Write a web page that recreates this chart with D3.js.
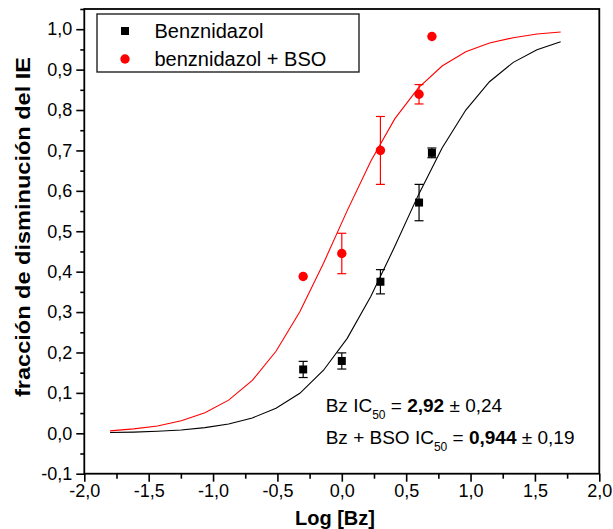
<!DOCTYPE html>
<html>
<head>
<meta charset="utf-8">
<script src="https://cdn.jsdelivr.net/npm/d3@7"></script>
<style>
  body { margin: 0; background: #fff; }
  svg { display: block; font-family: "Liberation Sans", Arial, sans-serif; }
  .axis path { display: none; }
  .axis line { stroke: #000; stroke-width: 1.6; }
  .axis text { font-size: 18px; fill: #000; }
</style>
</head>
<body>
<svg id="chart" width="613" height="529"></svg>
<script>
// fitted curves
const curveX = [-1.8, -1.616, -1.432, -1.247, -1.063, -0.879, -0.695, -0.511, -0.326, -0.142,
                0.042, 0.226, 0.411, 0.595, 0.779, 0.963, 1.147, 1.332, 1.516, 1.7]
const benzCurve = [0.002, 0.003, 0.005, 0.008, 0.014, 0.023, 0.038, 0.062, 0.099, 0.156,
                   0.235, 0.339, 0.462, 0.590, 0.706, 0.800, 0.870, 0.918, 0.949, 0.969]
const bsoCurve = [0.006, 0.011, 0.018, 0.031, 0.051, 0.082, 0.131, 0.203, 0.301, 0.421,
                  0.551, 0.674, 0.778, 0.855, 0.909, 0.944, 0.966, 0.979, 0.988, 0.993]

// measured points
const doseLog = [-0.3, 0.0, 0.3, 0.6, 0.7]
const benzMean = [0.158, 0.179, 0.375, 0.571, 0.694]
const benzErr = [0.02, 0.02, 0.03, 0.045, 0.012]
const bsoMean = [0.388, 0.445, 0.700, 0.839, 0.982]
const bsoErr = [0, 0.05, 0.084, 0.024, 0]

const xTicks = [-2, -1.5, -1, -0.5, 0, 0.5, 1, 1.5, 2]
const yTicks = [-0.1, 0, 0.1, 0.2, 0.3, 0.4, 0.5, 0.6, 0.7, 0.8, 0.9, 1.0]
const legendLabels = ['Benznidazol', 'benznidazol + BSO']

const svg = d3.select('#chart')
const m = {left: 84.3, right: 599.3, top: 9, bottom: 473.7}

// scales
const x = d3.scaleLinear().domain([-2, 2]).range([m.left, m.right])
const y = d3.scaleLinear().domain([-0.1, 1.05]).range([m.bottom, m.top])

const loc = d3.formatLocale({decimal: ',', thousands: '.', grouping: [3], currency: ['', ''], minus: '-'})
const fmt = loc.format('.1f')

// axes, major + minor
svg.append('g').attr('class', 'axis')
    .attr('transform', `translate(0,${m.bottom})`)
    .call(d3.axisBottom(x).tickValues(xTicks).tickFormat(fmt).tickSize(8).tickPadding(3))
svg.append('g').attr('class', 'axis')
    .attr('transform', `translate(0,${m.bottom})`)
    .call(d3.axisBottom(x).tickValues(xTicks.slice(1).map(v => v - 0.25)).tickFormat('').tickSize(5))
svg.append('g').attr('class', 'axis')
    .attr('transform', `translate(${m.left},0)`)
    .call(d3.axisLeft(y).tickValues(yTicks).tickFormat(fmt).tickSize(8).tickPadding(4))
svg.append('g').attr('class', 'axis')
    .attr('transform', `translate(${m.left},0)`)
    .call(d3.axisLeft(y).tickValues(yTicks.map(v => v + 0.05)).tickFormat('').tickSize(4))

// frame
svg.append('rect')
    .attr('x', m.left).attr('y', m.top)
    .attr('width', m.right - m.left).attr('height', m.bottom - m.top)
    .attr('fill', 'none').attr('stroke', '#000').attr('stroke-width', 1.8)

// curves
const line = d3.line().x((d, i) => x(curveX[i])).y(d => y(d))
svg.append('path').attr('d', line(bsoCurve))
    .attr('fill', 'none').attr('stroke', '#ff0000').attr('stroke-width', 1.1)
svg.append('path').attr('d', line(benzCurve))
    .attr('fill', 'none').attr('stroke', '#000').attr('stroke-width', 1.1)

function errorBars(means, errs, color) {
    const g = svg.append('g')
    doseLog.forEach((d, i) => {
        if (!errs[i]) return
        const cx = x(d), y0 = y(means[i] - errs[i]), y1 = y(means[i] + errs[i])
        g.append('line').attr('x1', cx).attr('x2', cx).attr('y1', y0).attr('y2', y1)
        g.append('line').attr('x1', cx - 4.5).attr('x2', cx + 4.5).attr('y1', y0).attr('y2', y0)
        g.append('line').attr('x1', cx - 4.5).attr('x2', cx + 4.5).attr('y1', y1).attr('y2', y1)
    })
    g.selectAll('line').attr('stroke', color).attr('stroke-width', 1.2)
}
errorBars(bsoMean, bsoErr, '#ff0000')
errorBars(benzMean, benzErr, '#000')

svg.append('g').selectAll('circle').data(bsoMean).enter().append('circle')
    .attr('cx', (d, i) => x(doseLog[i])).attr('cy', d => y(d)).attr('r', 4.7)
    .attr('fill', '#ff0000')
svg.append('g').selectAll('rect').data(benzMean).enter().append('rect')
    .attr('x', (d, i) => x(doseLog[i]) - 4).attr('y', d => y(d) - 4)
    .attr('width', 8).attr('height', 8).attr('fill', '#000')

// legend
const leg = svg.append('g')
leg.append('rect').attr('x', 97).attr('y', 14).attr('width', 262).attr('height', 58)
    .attr('fill', '#fff').attr('stroke', '#222').attr('stroke-width', 1.4)
leg.append('rect').attr('x', 121).attr('y', 27).attr('width', 8).attr('height', 8).attr('fill', '#000')
leg.append('circle').attr('cx', 125).attr('cy', 59).attr('r', 4.7).attr('fill', '#ff0000')
leg.selectAll('text').data(legendLabels).enter().append('text')
    .attr('x', 154.5).attr('y', (d, i) => i === 0 ? 37.5 : 65.5)
    .style('font-size', '20px').text(d => d)

// IC50 annotation
function icLine(yPos, prefix, value, err) {
    const t = svg.append('text').attr('x', 325.7).attr('y', yPos).style('font-size', '19px')
    t.append('tspan').text(prefix + ' IC')
    t.append('tspan').attr('dy', 7).style('font-size', '12px').text('50')
    t.append('tspan').attr('dy', -7).text(' = ')
    t.append('tspan').style('font-weight', 'bold').text(value)
    t.append('tspan').text(' \u00b1 ' + err)
}
icLine(412.3, 'Bz', '2,92', '0,24')
icLine(444.3, 'Bz + BSO', '0,944', '0,19')

// axis titles
svg.append('text').attr('x', 335).attr('y', 525)
    .attr('text-anchor', 'middle').style('font-size', '20px').style('font-weight', 'bold')
    .text('Log [Bz]')
svg.append('text').attr('transform', 'translate(30,227) rotate(-90)')
    .attr('text-anchor', 'middle').style('font-size', '21px').style('font-weight', 'bold')
    .attr('textLength', 340).attr('lengthAdjust', 'spacingAndGlyphs')
    .text('fracción de disminución del IE')
</script>
</body>
</html>
